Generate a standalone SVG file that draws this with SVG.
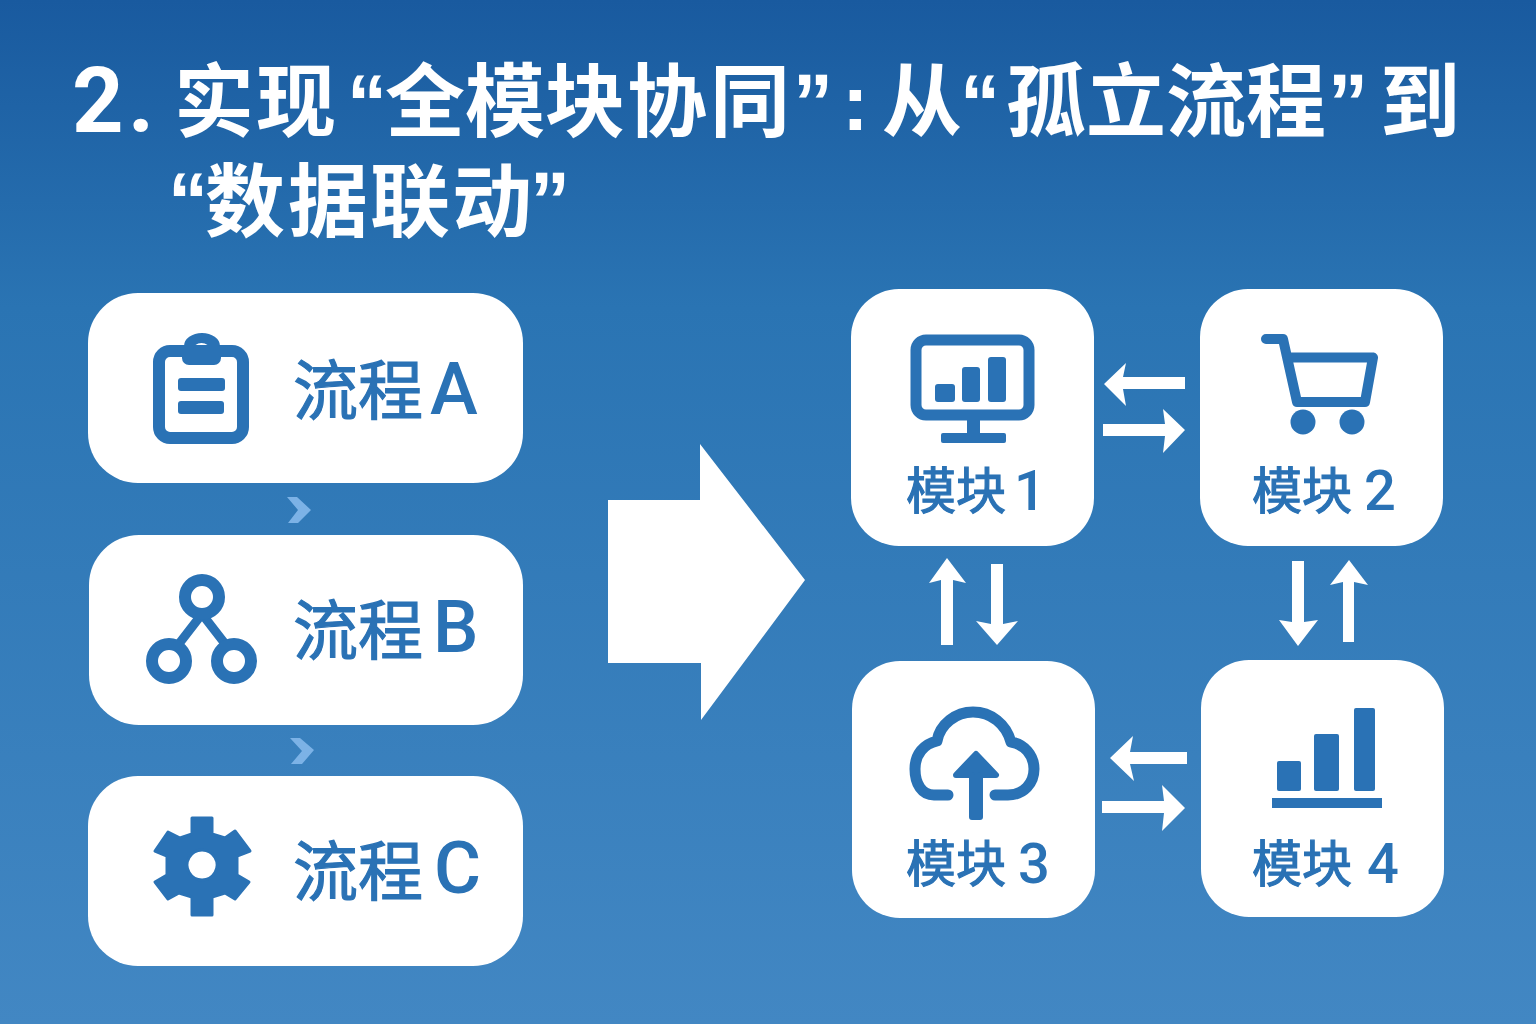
<svg xmlns="http://www.w3.org/2000/svg" width="1536" height="1024" viewBox="0 0 1536 1024">
<defs>
<linearGradient id="bg" x1="0" y1="0" x2="0" y2="1"><stop offset="0" stop-color="#195a9f"/><stop offset="0.3" stop-color="#2a74b3"/><stop offset="1" stop-color="#4287c3"/></linearGradient>
<style>
.card{fill:#fff}
.ttl{font-family:"Liberation Sans","Noto Sans CJK SC",sans-serif;font-weight:700;font-size:80px;fill:#fff}
.num{font-family:Roboto,"Liberation Sans",sans-serif;font-weight:700;font-size:90px;fill:#fff}
.cjk{font-family:"Noto Sans CJK SC","Liberation Sans",sans-serif}
.lbl{font-family:"Noto Sans CJK SC","Liberation Sans",sans-serif;font-size:65px;fill:#2a72b5;stroke:#2a72b5;stroke-width:1.2}
.mod{font-family:"Noto Sans CJK SC","Liberation Sans",sans-serif;font-size:50px;fill:#2a72b5;stroke:#2a72b5;stroke-width:1.2}
.lat{font-family:Roboto,"Liberation Sans",sans-serif;font-weight:500;fill:#2a72b5;stroke:none}
.big{font-size:72px}
.small{font-size:56px}
.ic{fill:#2a72b5}
.st{fill:none;stroke:#2a72b5;stroke-linejoin:round}
.ar{fill:#fff}
.chev{fill:#7cb2e6}
</style>
</defs>
<rect width="1536" height="1024" fill="url(#bg)"/>
<g id="title">
<text class="num" y="132" x="72 128">2.</text>
<text class="ttl cjk" y="130" x="174 256">实现</text>
<text class="ttl" y="130" x="347">“</text>
<text class="ttl cjk" y="130" x="385 465 545 627 710">全模块协同</text>
<text class="ttl" y="130" x="793">”</text>
<text class="ttl" y="130" x="842">:</text>
<text class="ttl cjk" y="130" x="882">从</text>
<text class="ttl" y="130" x="960">“</text>
<text class="ttl cjk" y="130" x="1006 1086 1166 1246">孤立流程</text>
<text class="ttl" y="130" x="1328">”</text>
<text class="ttl cjk" y="130" x="1380">到</text>
<text class="ttl" y="228" x="168">“</text>
<text class="ttl cjk" y="230" x="205 288 370 452">数据联动</text>
<text class="ttl" y="228" x="530">”</text>
</g>
<g id="process-a">
<rect class="card" x="88" y="293" width="435" height="190" rx="50"/>
<rect class="st" x="159" y="351" width="84" height="87" rx="11" stroke-width="12"/>
<path class="ic" fill-rule="evenodd" d="M182 346H184A18 13 0 0 1 220 346H221V358a7 7 0 0 1-7 7H189a7 7 0 0 1-7-7z M193 350H210A8.500 7 0 0 0 193 350z"/>
<rect class="ic" x="178" y="378" width="47" height="13" rx="3"/>
<rect class="ic" x="178" y="401" width="46" height="13" rx="3"/>
<text class="lbl" x="293" y="414">流程</text><text class="lat big" x="430" y="414">A</text>
</g>
<g id="process-b">
<rect class="card" x="89" y="535" width="434" height="190" rx="50"/>
<path class="st" d="M178 645L202 614L226 645" stroke-width="9"/>
<circle class="st" cx="202" cy="597" r="17" stroke-width="12"/>
<circle class="st" cx="169" cy="661" r="17" stroke-width="12"/>
<circle class="st" cx="234" cy="661" r="17" stroke-width="12"/>
<text class="lbl" x="293" y="654">流程</text><text class="lat big" x="433" y="652">B</text>
</g>
<g id="process-c">
<rect class="card" x="88" y="776" width="435" height="190" rx="50"/>
<path class="ic" stroke="#2a72b5" stroke-width="3" stroke-linejoin="round" fill-rule="evenodd" d="M192 818H212V834L225 838L235 831L250 851L237 856V875L249 882L235 899L225 893L212 897V915H192V897L179 893L168 899L155 882L167 875V856L155 851L168 832L180 838L192 834Z M202 850a15 15 0 1 0 .1 0z"/>
<text class="lbl" x="293" y="895">流程</text><text class="lat big" x="434" y="893">C</text>
</g>
<g id="module-1">
<rect class="card" x="851" y="289" width="243" height="257" rx="48"/>
<rect class="st" x="916" y="340" width="113" height="75" rx="10" stroke-width="11"/>
<rect class="ic" x="935" y="384" width="20" height="18" rx="3"/>
<rect class="ic" x="962" y="367" width="18" height="35" rx="3"/>
<rect class="ic" x="988" y="357" width="18" height="45" rx="3"/>
<rect class="ic" x="967" y="418" width="13" height="18"/>
<rect class="ic" x="941" y="433" width="65" height="10" rx="2"/>
<text class="mod" x="906" y="509">模块</text><text class="lat small" x="1014" y="510">1</text>
</g>
<g id="module-2">
<rect class="card" x="1200" y="289" width="243" height="257" rx="48"/>
<path class="st" stroke-width="10" stroke-linecap="round" d="M1266 339H1283L1297 402H1365L1373 357.500H1288"/>
<circle class="ic" cx="1303" cy="422" r="12.500"/><circle class="ic" cx="1352" cy="422" r="12.500"/>
<text class="mod" x="1252" y="509">模块</text><text class="lat small" x="1364" y="510">2</text>
</g>
<g id="module-3">
<rect class="card" x="852" y="661" width="243" height="257" rx="48"/>
<path class="st" stroke-width="11" stroke-linecap="round" d="M948 795h-14c-12 0-19-11-19-26c0-15 9-25 22-28c3-17 19-29 36-29c18 0 33 12 38 30c13 2 23 13 23 27c0 14-10 26-26 26h-13"/>
<path class="ic" stroke="#2a72b5" stroke-width="6" stroke-linejoin="round" d="M976 754L996 775H980V817H972V775H956z"/>
<text class="mod" x="906" y="882">模块</text><text class="lat small" x="1018" y="883">3</text>
</g>
<g id="module-4">
<rect class="card" x="1201" y="660" width="243" height="257" rx="48"/>
<rect class="ic" x="1277" y="761" width="24" height="30" rx="2"/>
<rect class="ic" x="1314" y="734" width="25" height="57" rx="2"/>
<rect class="ic" x="1354" y="708" width="21" height="83" rx="2"/>
<rect class="ic" x="1272" y="798" width="110" height="10"/>
<text class="mod" x="1252" y="882">模块</text><text class="lat small" x="1367" y="883">4</text>
</g>
<g id="connectors">
<path class="ar" d="M608 500H700V444L805 580L701 720V663H608z"/>
<path class="chev" d="M287 497H297L311 510L298 523H288L298 510z"/>
<path class="chev" d="M290 738H300L314 750L302 764H291L302 751z"/>
<path class="ar" d="M1104 384L1126 363L1123 377H1185V389H1123L1126 406z"/>
<path class="ar" d="M1185 430L1163 409L1165 424H1103V436H1165L1163 453z"/>
<path class="ar" d="M1110 758L1133 736L1130 752H1187V764H1130L1134 781z"/>
<path class="ar" d="M1185 808L1162 785L1164 801H1102V813H1164L1162 831z"/>
<path class="ar" d="M947 558L966 583L953 580V645H941V580L929 583z"/>
<path class="ar" d="M997 645L1018 621L1003 624V564H991V624L976 621z"/>
<path class="ar" d="M1298 646L1318 620L1304 622V561H1292V622L1279 620z"/>
<path class="ar" d="M1349 560L1368 585L1354 582V642H1343V582L1330 585z"/>
</g>
</svg>
